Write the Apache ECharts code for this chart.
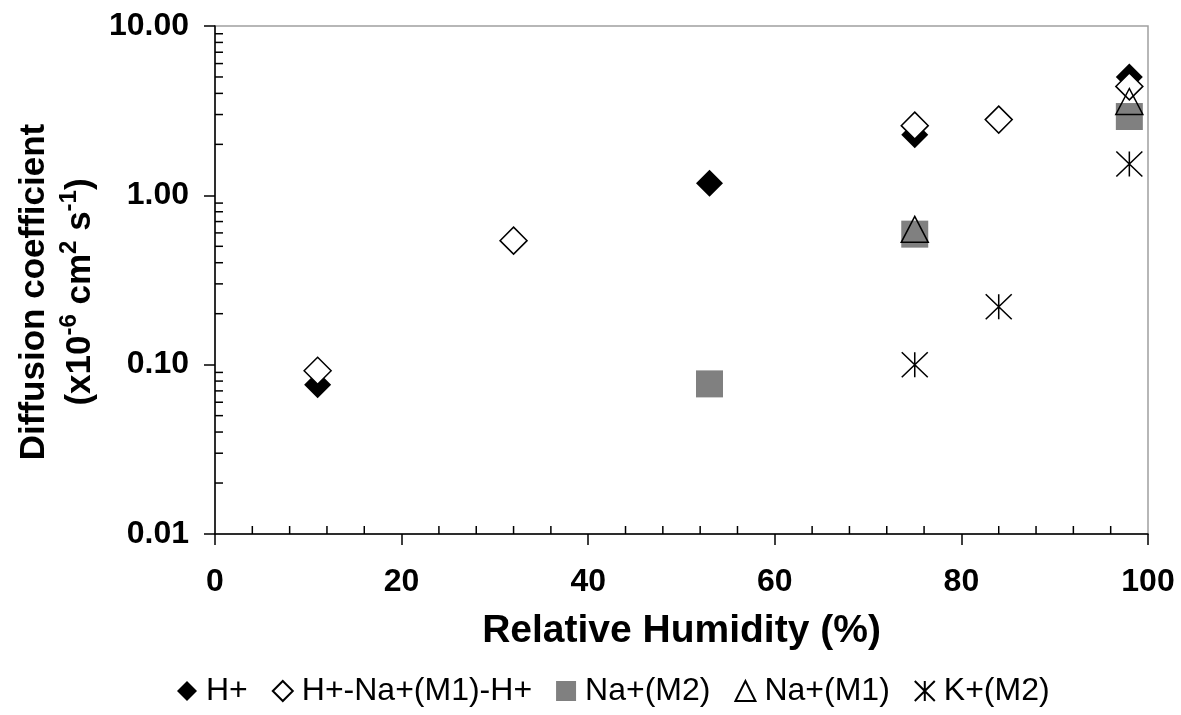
<!DOCTYPE html>
<html>
<head>
<meta charset="utf-8">
<script src="https://cdn.jsdelivr.net/npm/echarts@6/dist/echarts.min.js"></script>
<style>
  html, body { margin: 0; padding: 0; background: #fff; }
  #main { width: 1181px; height: 715px; }
</style>
</head>
<body>
<div id="main"></div>
<script>
// relative humidity (%) and diffusion coefficient (x10^-6 cm2 s-1)
const hX = [11, 53, 75, 98]
const hY = [0.076, 1.18, 2.28, 5.0]
const hnaX = [11, 32, 75, 84, 98]
const hnaY = [0.092, 0.54, 2.58, 2.8, 4.4]
const na2X = [53, 75, 98]
const na2Y = [0.077, 0.59, 2.92]
const na1X = [75, 98]
const na1Y = [0.63, 3.58]
const kX = [75, 84, 98]
const kY = [0.10, 0.22, 1.53]

const seriesNames = ['H+', 'H+-Na+(M1)-H+', 'Na+(M2)', 'Na+(M1)', 'K+(M2)']
// minor ticks, drawn inside the plot
const yMinorTicks = [0.02, 0.03, 0.04, 0.05, 0.06, 0.07, 0.08, 0.09,
  0.2, 0.3, 0.4, 0.5, 0.6, 0.7, 0.8, 0.9,
  2, 3, 4, 5, 6, 7, 8, 9]
const xMinorTicks = [4, 8, 12, 16, 24, 28, 32, 36, 44, 48, 52, 56,
  64, 68, 72, 76, 84, 88, 92, 96]

const font = 'Liberation Sans, Arial, sans-serif'
const pair = (xs, ys) => xs.map((x, i) => [x, ys[i]])

let myChart = echarts.init(document.getElementById('main'))
var option = {
  animation: false,
  backgroundColor: '#fff',
  grid: {
    left: 215,
    right: 33,
    top: 26,
    bottom: 181,
    show: true,
    borderColor: '#a0a0a0',
    borderWidth: 1.5
  },
  legend: {
    data: seriesNames,
    top: 670,
    left: 172,
    itemWidth: 20,
    itemHeight: 20,
    itemGap: 24,
    textStyle: { fontSize: 32, fontFamily: font, color: '#000', padding: [0, 0, 0, 4] }
  },
  xAxis: {
    type: 'value',
    min: 0,
    max: 100,
    interval: 20,
    name: 'Relative Humidity (%)',
    nameLocation: 'middle',
    nameGap: 78,
    nameTextStyle: { fontSize: 39, fontWeight: 'bold', fontFamily: font, color: '#000' },
    axisLine: { lineStyle: { color: '#000', width: 1.5 } },
    axisTick: { inside: false, length: 11, lineStyle: { color: '#000', width: 1.5 } },
    axisLabel: { margin: 32, fontSize: 32, fontWeight: 'bold', fontFamily: font, color: '#000' },
    splitLine: { show: false }
  },
  yAxis: {
    type: 'log',
    logBase: 10,
    min: 0.01,
    max: 10,
    name: '{b|Diffusion coefficient}\n{b|(x10}{s|-6}{b| cm}{s|2}{b| s}{s|-1}{b|)}',
    nameLocation: 'middle',
    nameRotate: 90,
    nameGap: 97,
    nameTextStyle: {
      padding: [0, 24, 0, 0],
      rich: {
        b: { fontSize: 35, fontWeight: 'bold', fontFamily: font, color: '#000', lineHeight: 46 },
        s: { fontSize: 24, fontWeight: 'bold', fontFamily: font, color: '#000', lineHeight: 46, verticalAlign: 'top' }
      }
    },
    axisLine: { lineStyle: { color: '#000', width: 1.5 } },
    axisTick: { inside: false, length: 11, lineStyle: { color: '#000', width: 1.5 } },
    axisLabel: {
      margin: 26,
      fontSize: 32,
      fontWeight: 'bold',
      fontFamily: font,
      color: '#000',
      formatter: v => Number(v).toFixed(2)
    },
    splitLine: { show: false }
  },
  series: [
    {
      name: 'H+',
      type: 'scatter',
      symbol: 'diamond',
      symbolSize: 27,
      itemStyle: { color: '#000', opacity: 1 },
      data: pair(hX, hY)
    },
    {
      name: 'H+-Na+(M1)-H+',
      type: 'scatter',
      symbol: 'diamond',
      symbolSize: 27,
      itemStyle: { color: '#fff', borderColor: '#000', borderWidth: 1.5, opacity: 1 },
      data: pair(hnaX, hnaY)
    },
    {
      name: 'Na+(M2)',
      type: 'scatter',
      symbol: 'rect',
      symbolSize: 27,
      itemStyle: { color: '#808080', opacity: 1 },
      data: pair(na2X, na2Y)
    },
    {
      name: 'Na+(M1)',
      type: 'scatter',
      symbol: 'triangle',
      symbolSize: [27, 26],
      itemStyle: { color: 'rgba(0,0,0,0)', borderColor: '#000', borderWidth: 1.5, opacity: 1 },
      data: pair(na1X, na1Y)
    },
    {
      name: 'K+(M2)',
      type: 'scatter',
      symbol: 'path://M0,0L10,10M10,0L0,10M5,0L5,10',
      symbolSize: [26, 25],
      itemStyle: { color: 'rgba(0,0,0,0)', borderColor: '#000', borderWidth: 1.5, opacity: 1 },
      data: pair(kX, kY)
    },
    {
      // y minor ticks
      type: 'custom',
      silent: true,
      clip: false,
      data: yMinorTicks.map(v => [0, v]),
      renderItem: (params, api) => {
        const p = api.coord([0, api.value(1)])
        return {
          type: 'line',
          shape: { x1: p[0], y1: p[1], x2: p[0] + 8, y2: p[1] },
          style: { stroke: '#000', lineWidth: 1.5 }
        }
      }
    },
    {
      // x minor ticks
      type: 'custom',
      silent: true,
      clip: false,
      data: xMinorTicks.map(v => [v, 0.01]),
      renderItem: (params, api) => {
        const p = api.coord([api.value(0), 0.01])
        return {
          type: 'line',
          shape: { x1: p[0], y1: p[1], x2: p[0], y2: p[1] - 8 },
          style: { stroke: '#000', lineWidth: 1.5 }
        }
      }
    }
  ]
}
myChart.setOption(option)
</script>
</body>
</html>
